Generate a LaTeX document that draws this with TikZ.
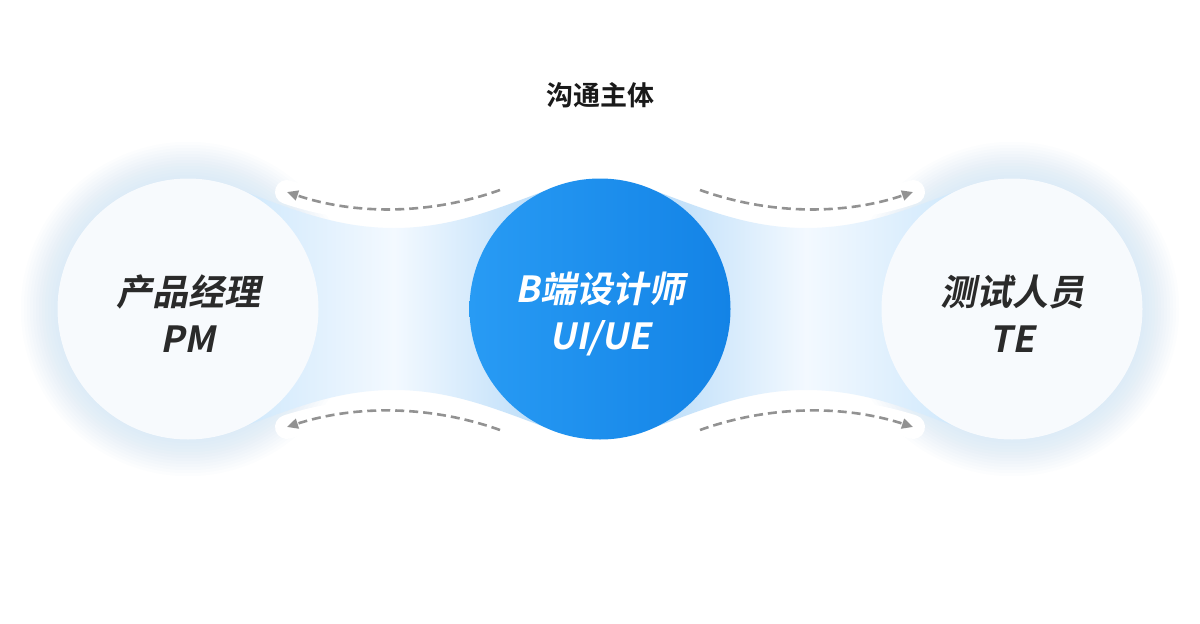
\documentclass[tikz,border=0pt]{standalone}
\usepackage{fontspec}
\newfontfamily\cjkhead{Noto Sans CJK SC Bold}
\newfontfamily\cjkrole[FakeSlant=0.2]{Noto Sans CJK SC Bold}
\usepackage{tikz}
\usetikzlibrary{arrows.meta}
\tikzset{>={Triangle[length=11pt,width=10pt]}}
\definecolor{headink}{HTML}{1A1A1A}
\definecolor{roleink}{HTML}{2A2A2A}
\definecolor{rolefill}{HTML}{F7FAFD}
\definecolor{glowblue}{HTML}{B3D8F7}
\definecolor{bridgeend}{HTML}{C9E5FB}
\definecolor{bridgemid}{HTML}{F3F9FF}
\definecolor{bridgecore}{HTML}{A9D4F7}
\definecolor{coreleft}{HTML}{289BF4}
\definecolor{coreright}{HTML}{1383E6}
\definecolor{arrowgray}{HTML}{929292}
\pgfdeclarehorizontalshading{bridgeleft}{100bp}{color(0bp)=(bridgeend); color(28bp)=(bridgeend);
  color(50bp)=(bridgemid); color(74bp)=(bridgecore); color(100bp)=(bridgecore)}
\pgfdeclarehorizontalshading{bridgeright}{100bp}{color(0bp)=(bridgecore); color(26bp)=(bridgecore);
  color(50bp)=(bridgemid); color(72bp)=(bridgeend); color(100bp)=(bridgeend)}

\begin{document}
\begin{tikzpicture}[x=1pt,y=-1pt,
    role/.style={circle, minimum size=261pt, inner sep=0pt},
    rolelabel/.style={align=center, font={\cjkrole\fontsize{36pt}{47pt}\selectfont}},
    flow/.style={->, draw=arrowgray, line width=2.6pt, dash pattern=on 9pt off 5pt},
    band/.style={white, line width=24pt, line cap=round}]

    \useasboundingbox[fill=white] (0,0) rectangle (1200,624);

    % the three roles
    \coordinate (pmc) at (188,309);
    \coordinate (uic) at (600,309);
    \coordinate (tec) at (1012,309);

    % soft glow round the two outer circles
    \foreach \c in {pmc,tec} {
      \foreach \r in {131,134,...,167} {
        \fill[glowblue, opacity=0.04] (\c) circle (\r);
      }
    }

    % white bands that carry the arrows
    \draw[band] (500,190) .. controls (430,215) and (355,215) .. (287,192);
    \draw[band] (700,190) .. controls (770,215) and (845,215) .. (913,192);
    \draw[band] (500,430) .. controls (430,405) and (355,405) .. (287,427);
    \draw[band] (700,430) .. controls (770,405) and (845,405) .. (913,427);

    % the two bridges
    \shade[shading=bridgeleft]
      (pmc) -- (232,187) .. controls (288,207.5) and (334,228) .. (394,228)
      .. controls (454,228) and (499,207.5) .. (555.5,187) -- (uic)
      -- (555.5,431) .. controls (499,410.5) and (454,390) .. (394,390)
      .. controls (334,390) and (288,410.5) .. (232,431) -- cycle;
    \shade[shading=bridgeright]
      (uic) -- (644.5,187) .. controls (701,207.5) and (746,228) .. (806,228)
      .. controls (866,228) and (912,207.5) .. (967.5,187) -- (tec)
      -- (967.5,431) .. controls (912,410.5) and (866,390) .. (806,390)
      .. controls (746,390) and (701,410.5) .. (644.5,431) -- cycle;

    % circles
    \node[role, fill=rolefill] (pm) at (pmc) {};
    \node[role, left color=coreleft, right color=coreright] (ui) at (uic) {};
    \node[role, fill=rolefill] (te) at (tec) {};

    \node[rolelabel, text=roleink] (pmtext) at ([yshift=-5pt]pm.center) {产品经理\\PM};
    \node[rolelabel, text=white] (uitext) at ([yshift=-5pt]ui.center) {B端设计师\\UI/UE};
    \node[rolelabel, text=roleink] (tetext) at ([yshift=-5pt]te.center) {测试人员\\TE};

    \node[font={\cjkhead\fontsize{27pt}{30pt}\selectfont}, text=headink] (head) at (600,95) {沟通主体};

    % dashed arrows
    \coordinate (uiNW) at (500,190);
    \coordinate (uiNE) at (700,190);
    \coordinate (uiSW) at (500,430);
    \coordinate (uiSE) at (700,430);
    \coordinate (pmNE) at (287,192);
    \coordinate (pmSE) at (287,427);
    \coordinate (teNW) at (913,192);
    \coordinate (teSW) at (913,427);

    \draw[flow] (uiNW) .. controls (430,215) and (355,215) .. (pmNE);
    \draw[flow] (uiNE) .. controls (770,215) and (845,215) .. (teNW);
    \draw[flow] (uiSW) .. controls (430,405) and (355,405) .. (pmSE);
    \draw[flow] (uiSE) .. controls (770,405) and (845,405) .. (teSW);
\end{tikzpicture}
\end{document}
